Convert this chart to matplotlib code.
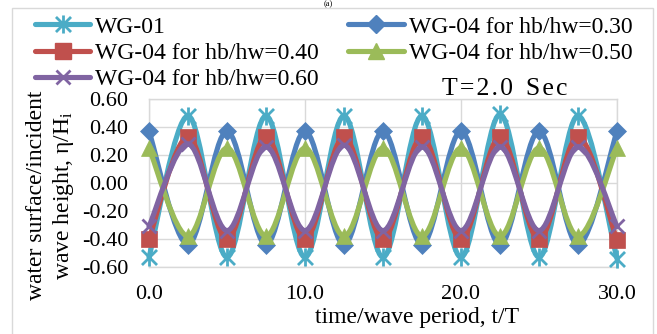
import matplotlib
matplotlib.use("Agg")
import matplotlib.pyplot as plt
from matplotlib.path import Path
from matplotlib.patches import PathPatch, Rectangle
from matplotlib.lines import Line2D

plt.rcParams['font.family'] = ['Liberation Serif', 'DejaVu Serif']
plt.rcParams['mathtext.fontset'] = 'custom'
plt.rcParams['mathtext.rm'] = 'Liberation Serif'
plt.rcParams['mathtext.it'] = 'Liberation Serif:italic'

# ---- data ----
t = [0.0, 2.5, 5.0, 7.5, 10.0, 12.5, 15.0, 17.5, 20.0, 22.5, 25.0, 27.5, 30.0]
wg01 = [-0.53, 0.48, -0.53, 0.48, -0.53, 0.48, -0.53, 0.48, -0.53, 0.49, -0.53, 0.48, -0.54]
wg04_030 = [0.37, -0.44, 0.37, -0.44, 0.37, -0.44, 0.37, -0.44, 0.37, -0.44, 0.37, -0.44, 0.37]
wg04_040 = [-0.40, 0.33, -0.40, 0.33, -0.40, 0.33, -0.40, 0.33, -0.40, 0.33, -0.40, 0.33, -0.41]
wg04_050 = [0.25, -0.38, 0.25, -0.38, 0.25, -0.38, 0.25, -0.38, 0.25, -0.38, 0.25, -0.38, 0.25]
wg04_060 = [-0.31, 0.28, -0.34, 0.26, -0.34, 0.27, -0.34, 0.26, -0.34, 0.26, -0.34, 0.26, -0.31]

labels = ['WG-01', 'WG-04 for hb/hw=0.30', 'WG-04 for hb/hw=0.40',
          'WG-04 for hb/hw=0.50', 'WG-04 for hb/hw=0.60']
colors = ['#4BACC6', '#4F81BD', '#C0504D', '#9BBB59', '#8064A2']
yticks = [-0.60, -0.40, -0.20, 0.00, 0.20, 0.40, 0.60]
xticks = [0.0, 10.0, 20.0, 30.0]

# star marker (X plus vertical bar), Excel style
star = Path([(-0.5, -0.5), (0.5, 0.5), (-0.5, 0.5), (0.5, -0.5), (0, -0.6), (0, 0.6)],
            [Path.MOVETO, Path.LINETO, Path.MOVETO, Path.LINETO, Path.MOVETO, Path.LINETO])
markers = [star, 'D', 's', '^', 'x']
msizes = [13, 9.5, 11, 12, 10]
LW = 3.7

fig = plt.figure(figsize=(6.57, 3.34), dpi=100)
ax = fig.add_axes([149/657, 1-267/334, (617-149)/657, (267-99)/334])


def smooth_path(x, y):
    # Excel-style smoothed line (Catmull-Rom as cubic Bezier segments)
    n = len(x)
    verts = [(x[0], y[0])]
    codes = [Path.MOVETO]
    for i in range(n - 1):
        x0, y0 = (x[i-1], y[i-1]) if i > 0 else (x[i], y[i])
        x3, y3 = (x[i+2], y[i+2]) if i + 2 < n else (x[i+1], y[i+1])
        c1 = (x[i] + (x[i+1] - x0) / 6, y[i] + (y[i+1] - y0) / 6)
        c2 = (x[i+1] - (x3 - x[i]) / 6, y[i+1] - (y3 - y[i]) / 6)
        verts += [c1, c2, (x[i+1], y[i+1])]
        codes += [Path.CURVE4, Path.CURVE4, Path.CURVE4]
    return Path(verts, codes)


series = [wg01, wg04_030, wg04_040, wg04_050, wg04_060]
handles = []
for k, (ys, c, m, ms, lab) in enumerate(zip(series, colors, markers, msizes, labels)):
    patch = PathPatch(smooth_path(t, ys), facecolor='none', edgecolor=c, lw=LW,
                      zorder=3 + k, clip_on=False, capstyle='round', joinstyle='round')
    ax.add_patch(patch)
    if m is star or m == 'x':
        ax.plot(t, ys, ls='none', marker=m, ms=ms, mec=c, mfc='none', mew=2.0,
                zorder=3 + k, clip_on=False)
        h = Line2D([], [], color=c, lw=LW, marker=m, ms=ms, mec=c, mfc='none', mew=2.0,
                   solid_capstyle='round')
    else:
        ax.plot(t, ys, ls='none', marker=m, ms=ms, mec=c, mfc=c, mew=0.5,
                zorder=3 + k, clip_on=False)
        h = Line2D([], [], color=c, lw=LW, marker=m, ms=ms, mec=c, mfc=c,
                   solid_capstyle='round')
    handles.append((h, lab))

ax.set_xlim(0, 30)
ax.set_ylim(-0.6, 0.6)
ax.set_xticks(xticks)
ax.set_xticklabels([f'{v:.1f}' for v in xticks])
ax.set_yticks(yticks)
ax.set_yticklabels([f'{v:.2f}' for v in yticks])
ax.tick_params(length=0, labelsize=16, colors='black')
ax.tick_params(axis='y', pad=15)
ax.tick_params(axis='x', pad=13)
ax.grid(True, color='#d9d9d9', lw=1.0)
ax.set_axisbelow(True)
for s in ax.spines.values():
    s.set_color('#d9d9d9')
    s.set_linewidth(1.0)

# legend (column-major order to mimic row-major 2-col layout)
order = [0, 2, 4, 1, 3]
fig.legend([handles[i][0] for i in order], [handles[i][1] for i in order],
           loc='upper left', bbox_to_anchor=(35/657, 1 - 16/334), ncol=2,
           frameon=False, fontsize=17, handlelength=2.35, handletextpad=0.2,
           columnspacing=1.25, labelspacing=0.2, borderpad=0, borderaxespad=0,
           numpoints=1)

fig.text(51/657, 1 - 195/334, 'water surface/incident\nwave height, η/H$_\\mathrm{i}$',
         rotation=90, ha='center', va='center', multialignment='center', fontsize=17,
         linespacing=1.25)
fig.text(417/657, 1 - 318/334, 'time/wave period, t/T', ha='center', va='center',
         fontsize=17)
fig.text(442/657, 1 - 95/334, 'T\u200a=\u200a2\u200a.\u200a0\u2002S\u200ae\u200ac',
         ha='left', va='baseline', fontsize=18.5)
fig.text(328/657, 1 - 0.5/334, '(a)', ha='center', va='top', fontsize=6)

fig.add_artist(Rectangle((11.7/657, -0.05), (653-11.7)/657, 1.05 - 8.3/334,
                         transform=fig.transFigure, fill=False, edgecolor='#d9d9d9',
                         lw=1.0))

fig.savefig('out.png', dpi=100)
